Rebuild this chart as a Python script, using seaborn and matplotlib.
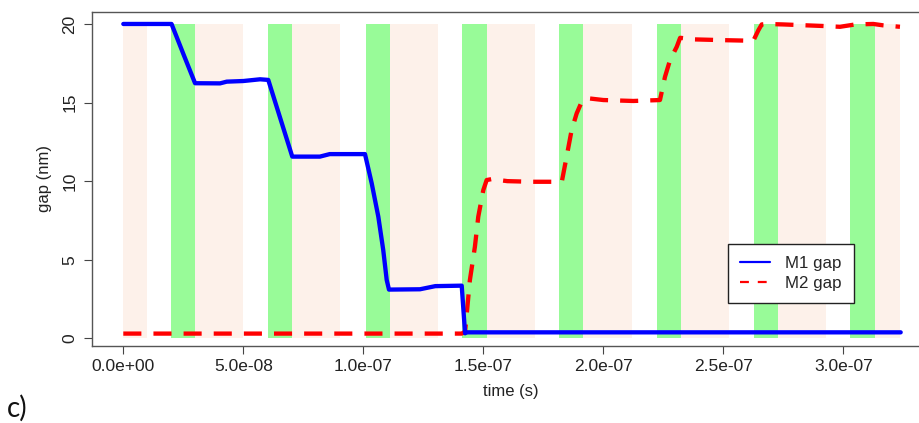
import numpy as np
import pandas as pd
import matplotlib
matplotlib.use("Agg")
import matplotlib.pyplot as plt
from matplotlib.lines import Line2D
import seaborn as sns

# ---- data ----
m1_time = [0.0, 2.01e-8, 2.5e-8, 2.99e-8, 4.03e-8, 4.31e-8, 5.0e-8, 5.7e-8, 6.04e-8,
           7.04e-8, 8.19e-8, 8.6e-8, 1.007e-7, 1.035e-7, 1.0625e-7, 1.083e-7,
           1.0975e-7, 1.107e-7, 1.236e-7, 1.30e-7, 1.41e-7, 1.424e-7, 1.43e-7,
           2.0e-7, 2.6e-7, 3.239e-7]
m1_gap = [20.0, 20.0, 18.1, 16.23, 16.22, 16.33, 16.37, 16.48, 16.44,
          11.56, 11.56, 11.72, 11.72, 9.86, 7.74, 5.62,
          3.71, 3.1, 3.12, 3.32, 3.35, 0.32, 0.38,
          0.38, 0.38, 0.38]

m2_time = [0.0, 5.0e-8, 1.0e-7, 1.41e-7, 1.424e-7, 1.444e-7, 1.465e-7, 1.479e-7,
           1.5e-7, 1.514e-7, 1.535e-7, 1.6e-7, 1.7e-7, 1.827e-7, 1.847e-7,
           1.868e-7, 1.889e-7, 1.91e-7, 1.937e-7, 2.0e-7, 2.125e-7, 2.236e-7,
           2.257e-7, 2.278e-7, 2.306e-7, 2.32e-7, 2.375e-7, 2.5e-7, 2.625e-7,
           2.646e-7, 2.66e-7, 2.68e-7, 2.75e-7, 2.917e-7, 2.986e-7, 3.05e-7,
           3.125e-7, 3.167e-7, 3.236e-7]
m2_gap = [0.3, 0.3, 0.3, 0.3, 0.42, 3.7, 5.83, 7.74,
          9.43, 10.07, 10.13, 10.0, 9.96, 9.96, 11.55,
          13.25, 14.31, 15.05, 15.27, 15.16, 15.1, 15.16,
          16.64, 17.7, 18.55, 19.12, 19.02, 18.97, 18.93,
          19.6, 19.97, 20.0, 19.97, 19.87, 19.82, 19.97,
          20.0, 19.91, 19.82]

green_start = [2.0e-8, 6.04e-8, 1.01e-7, 1.41e-7, 1.815e-7, 2.222e-7, 2.628e-7, 3.028e-7]
green_end = [3.0e-8, 7.04e-8, 1.11e-7, 1.514e-7, 1.917e-7, 2.322e-7, 2.727e-7, 3.132e-7]
pink_start = [0.0, 3.0e-8, 7.04e-8, 1.11e-7, 1.514e-7, 1.917e-7, 2.322e-7, 2.727e-7, 3.132e-7]
pink_end = [1.0e-8, 5.0e-8, 9.03e-8, 1.31e-7, 1.715e-7, 2.12e-7, 2.525e-7, 2.927e-7, 3.236e-7]
band_bottom = 0.0
band_top = 20.0

x_ticks = [0.0, 5e-8, 1e-7, 1.5e-7, 2e-7, 2.5e-7, 3e-7]
x_tick_labels = ["0.0e+00", "5.0e-08", "1.0e-07", "1.5e-07", "2.0e-07", "2.5e-07", "3.0e-07"]
y_ticks = [0, 5, 10, 15, 20]
series_names = ["M1 gap", "M2 gap"]

# ---- style ----
sns.set_style("white")
plt.rcParams['font.family'] = ['Liberation Sans', 'DejaVu Sans']

fig = plt.figure(figsize=(9.2, 4.23), dpi=100)
ax = fig.add_axes([0.1, 0.182, 0.9158, 0.7907])

GREEN = "#98FB98"
PINK = "#FDF1EA"

ax.bar(pink_start, band_top - band_bottom,
       width=np.array(pink_end) - np.array(pink_start),
       bottom=band_bottom, align="edge", color=PINK, linewidth=0, zorder=1)
ax.bar(green_start, band_top - band_bottom,
       width=np.array(green_end) - np.array(green_start),
       bottom=band_bottom, align="edge", color=GREEN, linewidth=0, zorder=1)

df1 = pd.DataFrame({"time": m1_time, "gap": m1_gap})
df2 = pd.DataFrame({"time": m2_time, "gap": m2_gap})
sns.lineplot(data=df2, x="time", y="gap", ax=ax, color="#FF0000", linewidth=3.1,
             estimator=None, linestyle=(0, (4.2, 2.8)), zorder=3)
sns.lineplot(data=df1, x="time", y="gap", ax=ax, color="#0000FF", linewidth=3.1,
             estimator=None, zorder=4)

ax.set_xlim(-1.304e-8, 3.38e-7)
ax.set_ylim(-0.49, 20.79)
ax.set_xticks(x_ticks)
ax.set_xticklabels(x_tick_labels, fontsize=12.5)
ax.set_yticks(y_ticks)
ax.set_yticklabels([str(v) for v in y_ticks], fontsize=12.5, rotation=90, va="center")
ax.tick_params(axis="both", direction="out", length=5.5, width=0.8, color="#444444",
               labelcolor="#222222", bottom=True, left=True)
ax.tick_params(axis="x", pad=4)
ax.tick_params(axis="y", pad=5)

for s in ax.spines.values():
    s.set_color("#555555")
    s.set_linewidth(1.0)

ax.set_xlabel("time (s)", fontsize=12, color="#222222")
ax.set_ylabel("gap (nm)", fontsize=12, color="#222222")
ax.xaxis.set_label_coords(0.4965, -0.114)
ax.yaxis.set_label_coords(-0.048, 0.5)

handles = [Line2D([0], [0], color="#0000FF", lw=1.6),
           Line2D([0], [0], color="#FF0000", lw=1.6, linestyle=(0, (4, 4)))]
leg = fig.legend(handles, series_names, loc="upper left",
                 bbox_to_anchor=(0.791, 0.423), fontsize=12.2, frameon=True,
                 fancybox=False, edgecolor="#222222", framealpha=1,
                 handlelength=1.8, handletextpad=0.9, borderpad=0.7,
                 labelspacing=0.3, borderaxespad=0)
leg.get_frame().set_linewidth(1.0)

fig.text(7 / 920, 0.015, "c)", fontsize=20, family=["Lato", "DejaVu Sans"],
         va="baseline", ha="left", color="#111111")

fig.savefig("out.png", dpi=100)
